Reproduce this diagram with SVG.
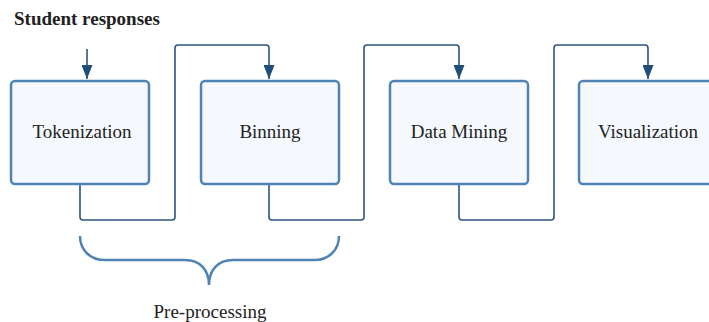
<svg xmlns="http://www.w3.org/2000/svg" width="709" height="322" viewBox="0 0 709 322">
<defs>
<style>
.box{fill:#f5f9fd;stroke:#4f83b6;stroke-width:2.5}
.lbl{font-family:"Liberation Serif","Times New Roman",serif;font-size:19px;fill:#222;text-anchor:middle}
.conn{fill:none;stroke:#2c5580;stroke-width:1.6}
.brace{fill:none;stroke:#4f83b6;stroke-width:2.5}
</style>
<marker id="arr" viewBox="0 0 10 10" refX="10" refY="5" markerWidth="7" markerHeight="9" markerUnits="userSpaceOnUse" orient="auto" preserveAspectRatio="none">
<path d="M0,0 L10,5 L0,10 Z" fill="#1f4e79"/>
</marker>
<marker id="arrh" viewBox="0 0 10 10" refX="10" refY="5" markerWidth="14" markerHeight="11" markerUnits="userSpaceOnUse" orient="auto" preserveAspectRatio="none">
<path d="M0,0 L10,5 L0,10 Z" fill="#1f4e79"/>
</marker>
</defs>
<rect width="709" height="322" fill="#fff"/>
<text x="14" y="25" font-family="Liberation Serif, serif" font-size="19" font-weight="bold" fill="#222">Student responses</text>
<g id="connectors">
<path class="conn" d="M87,49 V79" marker-end="url(#arrh)"/>
<path class="conn" d="M80,184 V217 Q80,220 83,220 H172 Q175,220 175,217 V48 Q175,45 178,45 H266 Q269,45 269,48 V79" marker-end="url(#arrh)"/>
<path class="conn" d="M269,184 V217 Q269,220 272,220 H361 Q364,220 364,217 V48 Q364,45 367,45 H456 Q459,45 459,48 V79" marker-end="url(#arrh)"/>
<path class="conn" d="M459,184 V217 Q459,220 462,220 H551 Q554,220 554,217 V48 Q554,45 557,45 H645 Q648,45 648,48 V79" marker-end="url(#arrh)"/>
</g>
<g id="tokenization"><rect class="box" x="11" y="81" width="138" height="103" rx="4"/><text class="lbl" x="82" y="138">Tokenization</text></g>
<g id="binning"><rect class="box" x="201" y="81" width="138" height="103" rx="4"/><text class="lbl" x="270" y="138">Binning</text></g>
<g id="datamining"><rect class="box" x="390" y="81" width="138" height="103" rx="4"/><text class="lbl" x="459" y="138">Data Mining</text></g>
<g id="visualization"><rect class="box" x="579" y="81" width="138" height="103" rx="4"/><text class="lbl" x="648" y="138">Visualization</text></g>
<g id="preprocessing">
<path class="brace" d="M80,236 C80,250 90,260 105,260 H185 C200,260 209,270 209,285 C209,270 218,260 233,260 H314 C329,260 339,250 339,236"/>
<text class="lbl" x="210" y="318">Pre-processing</text>
</g>
</svg>
